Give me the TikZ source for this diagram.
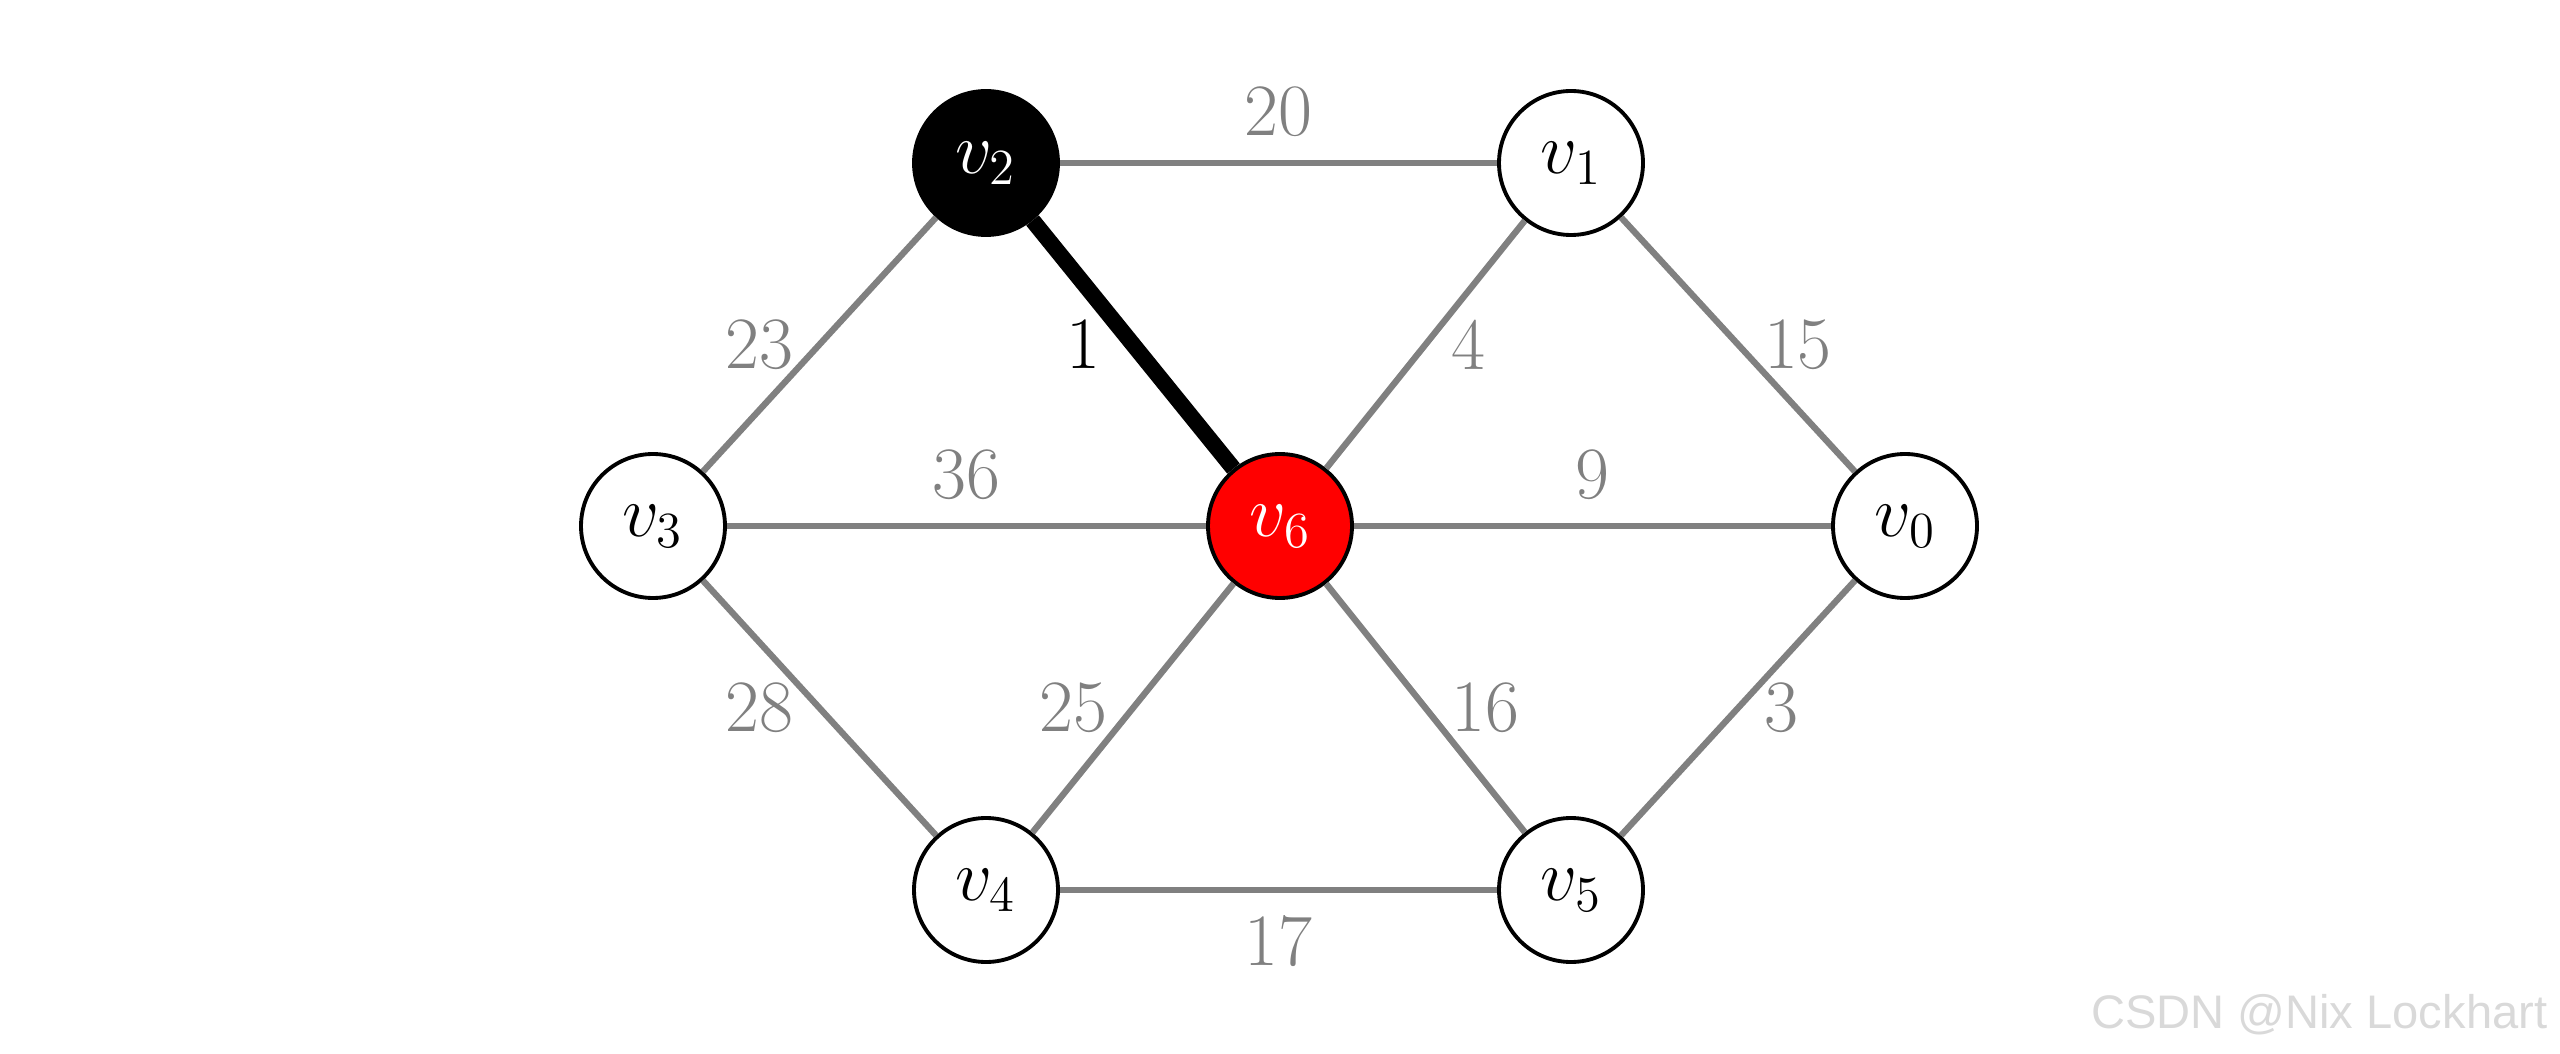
\documentclass[tikz,border=0pt]{standalone}
\usepackage{fontspec}
\usepackage{tikz}
\newfontfamily\markfont{Liberation Sans}

\begin{document}
\begin{tikzpicture}[vertex/.style={
			draw,
			circle,
			line width=1.1pt,
			minimum size=1.44cm,
			inner sep=0pt,
		}, edge/.style={gray, line width=1.8pt}, weight/.style={gray, inner sep=6.5pt},
		every node/.style={font=\fontsize{21}{25}\selectfont}]
		\useasboundingbox (0,0) rectangle (25.6,10.53);
		
		\node[vertex, fill=black, text=white] (v2) at (9.86,8.90) {$v_2$};
		\node[vertex] (v1) at (15.71,8.90) {$v_1$};
		\node[vertex] (v3) at (6.53,5.27) {$v_3$};
		\node[vertex, fill=red, text=white] (v6) at (12.80,5.27) {$v_6$};
		\node[vertex] (v0) at (19.05,5.27) {$v_0$};
		\node[vertex] (v4) at (9.86,1.63) {$v_4$};
		\node[vertex] (v5) at (15.71,1.63) {$v_5$};
		
		\draw[edge] (v2) -- node[above, weight]{20} (v1);
		\draw[edge] (v3) -- node[left, weight]{23} (v2);
		\draw[edge] (v6) -- node[right, weight]{4} (v1);
		\draw[edge] (v1) -- node[right, weight]{15} (v0);
		\draw[edge] (v3) -- node[above, weight]{36} (v6);
		\draw[edge] (v6) -- node[above, weight]{9} (v0);
		\draw[edge] (v3) -- node[left, weight]{28} (v4);
		\draw[edge] (v4) -- node[left, weight]{25} (v6);
		\draw[edge] (v6) -- node[right, weight]{16} (v5);
		\draw[edge] (v5) -- node[right, weight]{3} (v0);
		\draw[edge] (v4) -- node[below, weight]{17} (v5);
		\draw[line width=4.6pt] (v2) -- node[left, inner sep=7pt]{1} (v6);
		
		\node[anchor=base east, inner sep=0pt, text=gray!30, font=\markfont\fontsize{13.4}{16}\selectfont] (mark) at (25.48,0.25) {CSDN @Nix Lockhart};
	\end{tikzpicture}
\end{document}
